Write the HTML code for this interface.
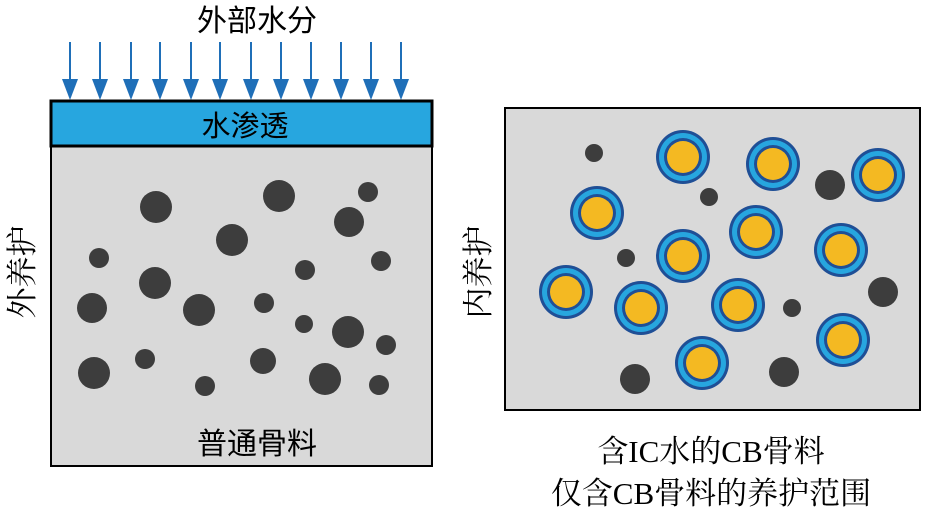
<!DOCTYPE html>
<html><head><meta charset="utf-8"><style>
body{margin:0;background:#fff}
.s{font-family:"Liberation Sans","Noto Sans CJK SC",sans-serif}
.r{font-family:"Liberation Serif","Noto Serif CJK SC",serif}
</style></head><body>
<svg width="927" height="522" viewBox="0 0 927 522" xmlns="http://www.w3.org/2000/svg">
<defs>
<g id="ar"><line x1="0" y1="42" x2="0" y2="82" stroke="#1f6fb8" stroke-width="2"/><polygon points="-8,79 8,79 0,100" fill="#1f6fb8"/></g>
<g id="cap"><circle r="27" fill="#1f4f96"/><circle r="24" fill="#27a6df"/><circle r="19" fill="#1f4f96"/><circle r="16" fill="#f4b922"/></g>
</defs>
<text x="257" y="31" font-size="30" text-anchor="middle" class="s">外部水分</text>
<g>
<use href="#ar" x="70"/><use href="#ar" x="100"/><use href="#ar" x="131"/><use href="#ar" x="160"/><use href="#ar" x="191"/><use href="#ar" x="220"/><use href="#ar" x="251"/><use href="#ar" x="281"/><use href="#ar" x="311"/><use href="#ar" x="341"/><use href="#ar" x="371"/><use href="#ar" x="401"/>
</g>
<rect x="51" y="101" width="381" height="365" fill="#d9d9d9" stroke="#000" stroke-width="2"/>
<rect x="51" y="101" width="381" height="45" fill="#27a6df" stroke="#000" stroke-width="3"/>
<text x="245" y="136" font-size="29" text-anchor="middle" class="s">水渗透</text>
<text x="257" y="454" font-size="30" text-anchor="middle" class="s">普通骨料</text>
<g fill="#3d3d3d">
<circle cx="156" cy="207" r="16"/><circle cx="279" cy="196" r="16"/><circle cx="368" cy="192" r="10"/><circle cx="349" cy="222" r="15"/><circle cx="232" cy="240" r="16"/><circle cx="99" cy="258" r="10"/><circle cx="155" cy="283" r="16"/><circle cx="305" cy="270" r="10"/><circle cx="381" cy="261" r="10"/><circle cx="92" cy="308" r="15"/><circle cx="199" cy="310" r="16"/><circle cx="264" cy="303" r="10"/><circle cx="304" cy="324" r="9"/><circle cx="348" cy="332" r="16"/><circle cx="386" cy="345" r="10"/><circle cx="94" cy="373" r="16"/><circle cx="145" cy="359" r="10"/><circle cx="263" cy="361" r="13"/><circle cx="325" cy="379" r="16"/><circle cx="205" cy="386" r="10"/><circle cx="379" cy="385" r="10"/>
</g>
<text transform="translate(33,272) rotate(-90)" font-size="31" text-anchor="middle" class="r">外养护</text>
<rect x="505" y="108" width="415" height="302" fill="#d9d9d9" stroke="#000" stroke-width="2"/>
<g fill="#3d3d3d">
<circle cx="594" cy="153" r="9"/><circle cx="709" cy="197" r="9"/><circle cx="830" cy="185" r="15"/><circle cx="626" cy="258" r="9"/><circle cx="883" cy="292" r="15"/><circle cx="792" cy="308" r="9"/><circle cx="635" cy="379" r="15"/><circle cx="784" cy="372" r="15"/>
</g>
<use href="#cap" x="683" y="157"/><use href="#cap" x="773" y="164"/><use href="#cap" x="878" y="175"/><use href="#cap" x="597" y="213"/><use href="#cap" x="756" y="232"/><use href="#cap" x="683" y="256"/><use href="#cap" x="841" y="250"/><use href="#cap" x="566" y="292"/><use href="#cap" x="641" y="308"/><use href="#cap" x="738" y="305"/><use href="#cap" x="843" y="340"/><use href="#cap" x="702" y="363"/>
<text transform="translate(489,272) rotate(-90)" font-size="31" text-anchor="middle" class="r">内养护</text>
<text x="711" y="462" font-size="31" text-anchor="middle" class="r">含IC水的CB骨料</text>
<text x="711" y="504" font-size="31" text-anchor="middle" class="r">仅含CB骨料的养护范围</text>
</svg>
</body></html>
